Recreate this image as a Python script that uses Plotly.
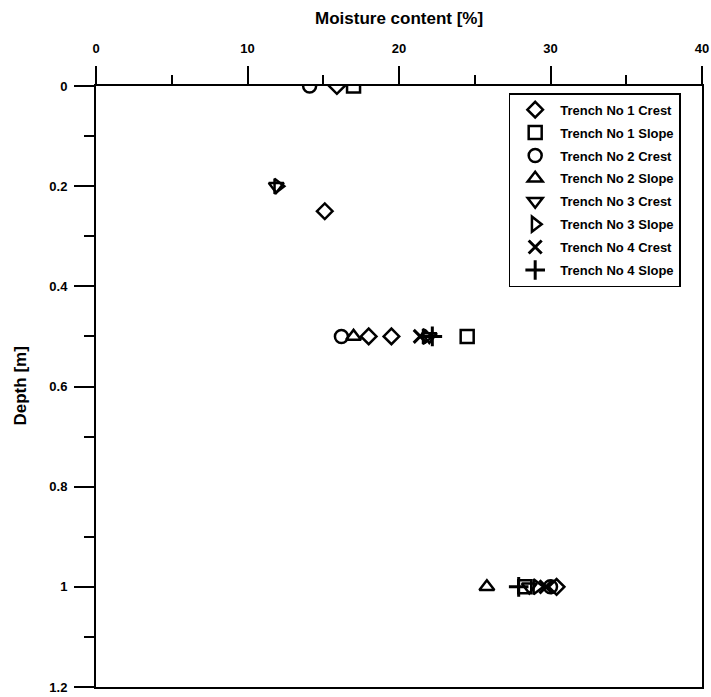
import plotly.graph_objects as go

# Data (moisture content %, depth m)
t1_crest_mc = [15.9, 15.1, 18.0, 19.5, 30.4]
t1_crest_d = [0.0, 0.25, 0.5, 0.5, 1.0]
t1_slope_mc = [17.0, 24.5, 28.3]
t1_slope_d = [0.0, 0.5, 1.0]
t2_crest_mc = [14.1, 16.2, 30.0]
t2_crest_d = [0.0, 0.5, 1.0]
t2_slope_mc = [17.0, 25.8]
t2_slope_d = [0.5, 1.0]
t3_crest_mc = [11.9, 22.0, 28.6]
t3_crest_d = [0.2, 0.5, 1.0]
t3_slope_mc = [12.0, 21.8, 29.1]
t3_slope_d = [0.2, 0.5, 1.0]
t4_crest_mc = [21.4, 29.7]
t4_crest_d = [0.5, 1.0]
t4_slope_mc = [22.2, 27.9]
t4_slope_d = [0.5, 1.0]

series = [
    ("Trench No 1 Crest", t1_crest_mc, t1_crest_d, "diamond-open", 12),
    ("Trench No 1 Slope", t1_slope_mc, t1_slope_d, "square-open", 13),
    ("Trench No 2 Crest", t2_crest_mc, t2_crest_d, "circle-open", 13),
    ("Trench No 2 Slope", t2_slope_mc, t2_slope_d, "triangle-up-open", 13),
    ("Trench No 3 Crest", t3_crest_mc, t3_crest_d, "triangle-down-open", 13),
    ("Trench No 3 Slope", t3_slope_mc, t3_slope_d, "triangle-right-open", 13),
    ("Trench No 4 Crest", t4_crest_mc, t4_crest_d, "x-thin-open", 13),
    ("Trench No 4 Slope", t4_slope_mc, t4_slope_d, "cross-thin-open", 14),
]

y_tickvals = [0, 0.2, 0.4, 0.6, 0.8, 1.0, 1.2]
y_ticktext = ["0", "0.2", "0.4", "0.6", "0.8", "1", "1.2"]
x_tickvals = [0, 10, 20, 30, 40]

FONT = "Liberation Sans"

fig = go.Figure()
for i, (name, mc, d, sym, sz) in enumerate(series):
    lw = 3 if sym in ("x-thin-open", "cross-thin-open") else 2.5
    fig.add_trace(go.Scatter(
        x=mc, y=d, mode="markers", name="<b>" + name + "</b>",
        legendgroup="g%d" % i,
        marker=dict(symbol=sym, size=sz, color="black",
                    line=dict(color="black", width=lw)),
    ))

fig.update_layout(
    width=711, height=697,
    margin=dict(l=96, r=2, t=86, b=9),
    paper_bgcolor="white", plot_bgcolor="white",
    font=dict(family=FONT, color="black"),
    showlegend=True,
    legend=dict(
        x=0.681, y=0.988, xanchor="left", yanchor="top",
        bordercolor="black", borderwidth=1.5, bgcolor="white",
        font=dict(family=FONT, size=13, color="black"),
        itemsizing="trace", tracegroupgap=3, itemwidth=40,
    ),
    annotations=[
        dict(text="<b>Moisture content [%]</b>", xref="paper", yref="paper",
             x=0.5, y=1, yshift=68, xanchor="center", yanchor="middle",
             showarrow=False, font=dict(family=FONT, size=17, color="black")),
        dict(text="<b>Depth [m]</b>", xref="paper", yref="paper",
             x=0, xshift=-76, y=0.5, textangle=-90, xanchor="center",
             yanchor="middle", showarrow=False,
             font=dict(family=FONT, size=17, color="black")),
    ],
)

fig.update_xaxes(
    side="top", range=[0, 40], tickvals=x_tickvals,
    ticks="outside", ticklen=18, tickwidth=2, tickcolor="black",
    minor=dict(dtick=5, ticks="outside", ticklen=9, tickwidth=2, tickcolor="black"),
    showline=True, linewidth=2, linecolor="black", mirror=True,
    showgrid=False, zeroline=False,
    tickfont=dict(family=FONT, size=13, color="black", weight="bold"),
    ticklabelstandoff=8, ticklabeloverflow="allow",
)
fig.update_yaxes(
    range=[1.2, 0], tickvals=y_tickvals, ticktext=y_ticktext,
    ticks="outside", ticklen=20, tickwidth=2, tickcolor="black",
    minor=dict(dtick=0.1, tick0=0, ticks="outside", ticklen=10, tickwidth=2, tickcolor="black"),
    showline=True, linewidth=2, linecolor="black", mirror=True,
    showgrid=False, zeroline=False,
    tickfont=dict(family=FONT, size=13, color="black", weight="bold"),
    ticklabelstandoff=4, ticklabeloverflow="allow",
)

fig.write_html("out.html", config={"displayModeBar": False},
               post_script="document.body.style.margin='0';document.body.style.overflow='hidden';")
